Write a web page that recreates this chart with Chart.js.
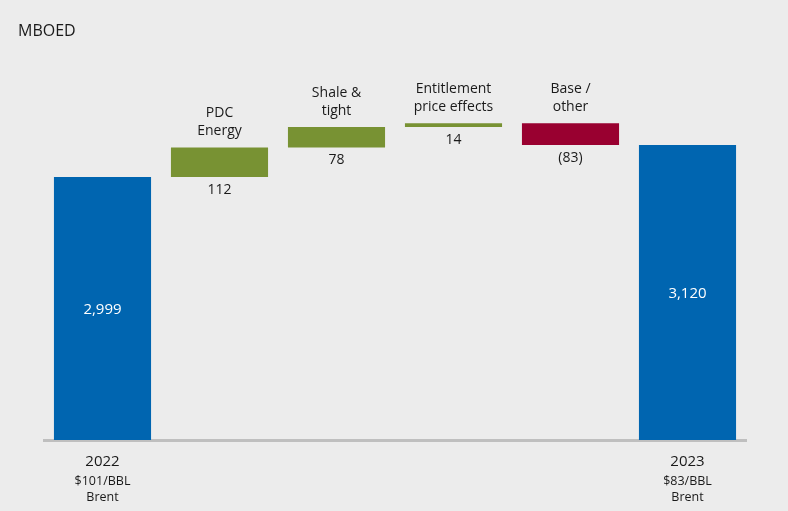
<!DOCTYPE html>
<html>
<head>
<meta charset="utf-8">
<script src="https://cdn.jsdelivr.net/npm/chart.js@4.4.0/dist/chart.umd.min.js"></script>
<style>
  html, body { margin: 0; padding: 0; background: #ececec; }
  #wrap { width: 788px; height: 511px; position: relative; }
</style>
</head>
<body>
<div id="wrap"><canvas id="myChart" width="788" height="511"></canvas></div>
<script>
// chart data
const categories = ['2022', 'PDC Energy', 'Shale & tight', 'Entitlement price effects', 'Base / other', '2023'];
const values = [2999, 112, 78, 14, -83, 3120];
const totals = [true, false, false, false, false, true];
const valueLabels = ['2,999', '112', '78', '14', '(83)', '3,120'];
const topLabels = [[], ['PDC', 'Energy'], ['Shale &', 'tight'], ['Entitlement', 'price effects'], ['Base /', 'other'], []];
const axisLabels = [['2022', '$101/BBL', 'Brent'], [], [], [], [], ['2023', '$83/BBL', 'Brent']];
const yMin = 2000;
const yMax = 3500;

const BLUE = '#0065b0';
const GREEN = '#789233';
const RED = '#990030';
const FONT = '"Open Sans", sans-serif';

// build floating bars
let running = 0;
const ranges = [];
const colors = [];
values.forEach((v, i) => {
  if (totals[i]) {
    ranges.push([yMin, v]);
    running = v;
    colors.push(BLUE);
  } else {
    ranges.push([running, running + v]);
    running += v;
    colors.push(v < 0 ? RED : GREEN);
  }
});

const textPlugin = {
  id: 'textPlugin',
  afterDatasetsDraw(chart) {
    const ctx = chart.ctx;
    const meta = chart.getDatasetMeta(0);
    const area = chart.chartArea;
    ctx.save();
    ctx.textAlign = 'left';
    ctx.textBaseline = 'middle';
    ctx.fillStyle = '#1a1a1a';
    ctx.font = '16px ' + FONT;
    ctx.fillText('MBOED', 18, 31);

    ctx.textAlign = 'center';
    meta.data.forEach((bar, i) => {
      const top = Math.min(bar.y, bar.base);
      const bottom = Math.max(bar.y, bar.base);
      if (totals[i]) {
        ctx.fillStyle = '#ffffff';
        ctx.font = '15px ' + FONT;
        ctx.fillText(valueLabels[i], bar.x, (top + bottom) / 2 + 1);
      } else {
        ctx.fillStyle = '#1a1a1a';
        ctx.font = '14px ' + FONT;
        ctx.fillText(valueLabels[i], bar.x, bottom + 13);
        const lines = topLabels[i];
        lines.forEach((t, j) => {
          ctx.fillText(t, bar.x, top - 16 - (lines.length - 1 - j) * 18);
        });
      }
      const ax = axisLabels[i];
      ax.forEach((t, j) => {
        ctx.fillStyle = '#1a1a1a';
        ctx.font = (j === 0 ? '15px ' : '12.5px ') + FONT;
        const y = j === 0 ? area.bottom + 22 : area.bottom + 22 + 19 + (j - 1) * 16;
        ctx.fillText(t, bar.x, y);
      });
    });
    ctx.restore();
  }
};

new Chart(document.getElementById('myChart'), {
  type: 'bar',
  data: {
    labels: categories,
    datasets: [{
      data: ranges,
      backgroundColor: colors,
      borderWidth: 0,
      borderSkipped: false,
      barPercentage: 0.83,
      categoryPercentage: 1
    }]
  },
  options: {
    responsive: false,
    animation: false,
    layout: { padding: { left: 44, right: 42, top: 45, bottom: 63 } },
    plugins: {
      legend: { display: false },
      tooltip: { enabled: false }
    },
    scales: {
      x: {
        grid: { display: false },
        ticks: { display: false },
        border: { display: true, color: '#bfbfbf', width: 3 }
      },
      y: {
        display: false,
        min: yMin,
        max: yMax
      }
    }
  },
  plugins: [textPlugin]
});
</script>
</body>
</html>
